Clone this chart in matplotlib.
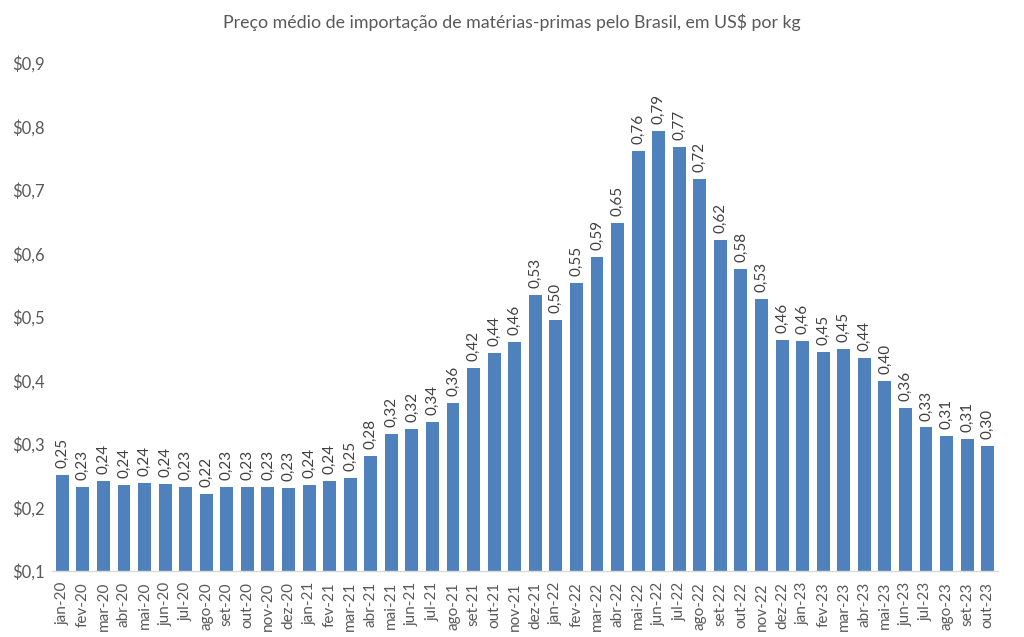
import matplotlib
matplotlib.use("Agg")
import matplotlib.pyplot as plt

categories = ["jan-20","fev-20","mar-20","abr-20","mai-20","jun-20","jul-20","ago-20","set-20","out-20","nov-20","dez-20",
              "jan-21","fev-21","mar-21","abr-21","mai-21","jun-21","jul-21","ago-21","set-21","out-21","nov-21","dez-21",
              "jan-22","fev-22","mar-22","abr-22","mai-22","jun-22","jul-22","ago-22","set-22","out-22","nov-22","dez-22",
              "jan-23","fev-23","mar-23","abr-23","mai-23","jun-23","jul-23","ago-23","set-23","out-23"]
values = [0.251,0.232,0.241,0.236,0.239,0.237,0.233,0.222,0.232,0.233,0.233,0.230,
          0.236,0.242,0.247,0.281,0.316,0.323,0.335,0.364,0.420,0.444,0.461,0.534,
          0.496,0.554,0.594,0.648,0.762,0.793,0.768,0.718,0.621,0.576,0.529,0.464,
          0.462,0.445,0.449,0.436,0.400,0.356,0.326,0.313,0.308,0.297]
yticks = [0.1,0.2,0.3,0.4,0.5,0.6,0.7,0.8,0.9]
title = "Preço médio de importação de matérias-primas pelo Brasil, em US$ por kg"

plt.rcParams['font.family'] = ['Lato', 'DejaVu Sans']
txt = "#595959"
fig = plt.figure(figsize=(10.24, 6.37), dpi=100)
ax = fig.add_axes([52/1024, 1-571/637, (998-52)/1024, (571-63)/637])
x = list(range(len(categories)))
ax.bar(x, [v - 0.1 for v in values], bottom=0.1, width=0.63, color="#4F81BD")
for xi, v in zip(x, values):
    ax.text(xi, v + 0.011, f"{v:.2f}".replace(".", ","), rotation=90, ha="center", va="bottom",
            fontsize=11, color="#404040")
ax.set_xlim(-0.5, len(categories) - 0.5)
ax.set_ylim(0.1, 0.9)
ax.set_yticks(yticks)
ax.set_yticklabels([f"${t:.1f}".replace(".", ",") for t in yticks], fontsize=12, color=txt)
ax.set_xticks(x)
ax.set_xticklabels(categories, rotation=90, fontsize=11, color=txt)
ax.tick_params(axis="x", length=0, pad=8)
ax.tick_params(axis="y", length=0, pad=5)
for s in ["top", "right", "left"]:
    ax.spines[s].set_visible(False)
ax.spines["bottom"].set_color("#D9D9D9")
ax.spines["bottom"].set_linewidth(1)
fig.text(0.5, 1-22/637, title, ha="center", va="center", fontsize=12.8, color=txt)
fig.savefig("out.png", dpi=100, facecolor="white")
